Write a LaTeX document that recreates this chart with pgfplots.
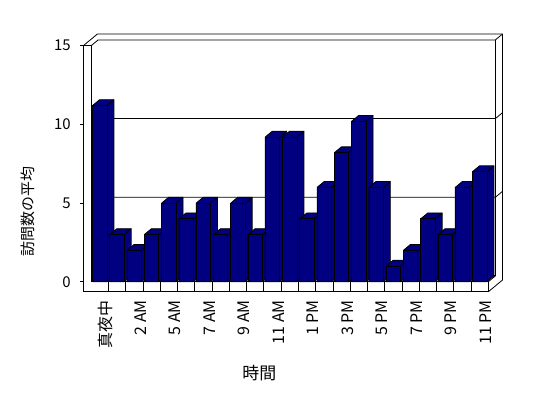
\documentclass[border=0pt]{standalone}
\usepackage{fontspec}
\setmainfont{Noto Sans CJK JP}
\usepackage{pgfplots}
\usepackage{pgfplotstable}
\pgfplotsset{compat=1.18}
\definecolor{barnavy}{RGB}{0,0,128}
\tikzset{
  bar3d/.style={fill=barnavy, draw=black, line width=0.8bp, line join=round},
  edge/.style={draw=black, line width=0.8bp},
}

\pgfplotstableread{
h v
0 11.2
1 3
2 2
3 3
4 5
5 4
6 5
7 3
8 5
9 3
10 9.2
11 9.2
12 4
13 6
14 8.2
15 10.2
16 6
17 1
18 2
19 4
20 3
21 6
22 7
}\visits

\begin{document}
\begin{tikzpicture}
\begin{axis}[
  scale only axis,
  width=419.1bp, height=257.6bp,
  xmin=-0.955, xmax=23.31,
  ymin=-0.636, ymax=15.738,
  clip=false,
  axis line style={draw=none},
  ytick={0,5,10,15},
  ytick pos=left,
  y tick style={draw=black, line width=0.8bp},
  tick align=outside,
  major tick length=3bp,
  xtick={0,2,...,22},
  xticklabels={真夜中,2 AM,5 AM,7 AM,9 AM,11 AM,1 PM,3 PM,5 PM,7 PM,9 PM,11 PM},
  x tick style={draw=none},
  xtick pos=left,
  /pgf/number format/assume math mode=true,
  yticklabel style={font=\fontsize{15}{17}\selectfont, xshift=-6bp},
  xticklabel style={font=\fontsize{16}{18}\selectfont, rotate=90, anchor=east, yshift=-6bp, xshift=-2bp},
  ylabel={訪問数の平均},
  xlabel={時間},
  ylabel style={font=\fontsize{15}{18}\selectfont, at={(axis description cs:-0.132,0.31)}, anchor=center},
  xlabel style={font=\fontsize{17}{19}\selectfont, at={(axis description cs:0.42,-0.314)}, anchor=center},
]
% walls and floor
\draw[edge] (axis cs:-0.955,-0.636) -- (axis cs:-0.955,15) -- (axis cs:-0.5,15) -- (axis cs:-0.5,0);
\draw[edge] (axis cs:-0.955,-0.636) -- (axis cs:22.5,-0.636) -- (axis cs:22.5,0) -- (axis cs:-0.5,0);
\pgfplotsinvokeforeach{1,...,22}{
  \draw[edge] (axis cs:#1-0.5,-0.636) -- (axis cs:#1-0.5,0);
}
\draw[edge] (axis cs:-0.955,15) -- (axis cs:-0.145,15.738) -- (axis cs:23.31,15.738) -- (axis cs:23.31,0.102) -- (axis cs:22.5,-0.636);
\draw[edge] (axis cs:-0.5,15) -- (axis cs:-0.095,15.369) -- (axis cs:22.905,15.369) -- (axis cs:22.905,0.369) -- (axis cs:22.5,0);
\draw[edge] (axis cs:22.905,15.369) -- (axis cs:23.31,15.738);
\draw[edge] (axis cs:-0.095,5.369) -- (axis cs:22.905,5.369) -- (axis cs:23.31,5.738);
\draw[edge] (axis cs:-0.095,10.369) -- (axis cs:22.905,10.369) -- (axis cs:23.31,10.738);
\draw[edge] (axis cs:-0.095,0.369) -- (axis cs:22.905,0.369);
% bars
\pgfplotsforeachungrouped \n in {0,...,22}{
  \pgfplotstablegetelem{\n}{v}\of\visits
  \pgfmathsetmacro\va{\pgfplotsretval}
  \pgfmathsetmacro\vb{\va+0.369}
  \pgfmathsetmacro\xl{\n-0.415}
  \pgfmathsetmacro\xr{\n+0.415}
  \pgfmathsetmacro\xld{\n-0.01}
  \pgfmathsetmacro\xrd{\n+0.82}
  \edef\tmp{%
    \noexpand\addplot[bar3d] coordinates {(\xl,0) (\xr,0) (\xrd,0.369) (\xrd,\vb) (\xld,\vb) (\xl,\va)} -- cycle;
    \noexpand\addplot[bar3d] coordinates {(\xl,0) (\xl,\va) (\xr,\va) (\xr,0)} -- cycle;
    \noexpand\addplot[edge] coordinates {(\xr,\va) (\xrd,\vb)};
  }%
  \tmp
}
\end{axis}
\pgfresetboundingbox
\path[use as bounding box] (-83.3bp,-106.3bp) rectangle (464.7bp,291.7bp);
\end{tikzpicture}
\end{document}
